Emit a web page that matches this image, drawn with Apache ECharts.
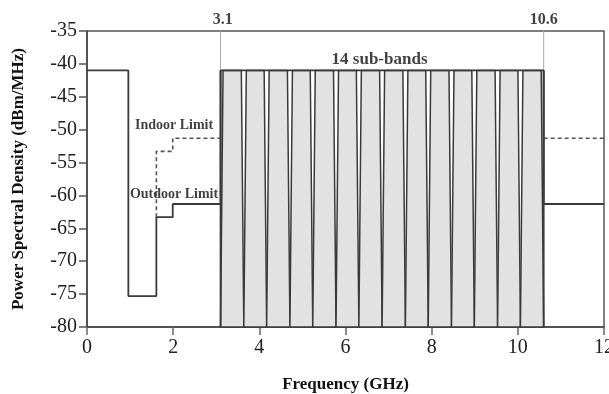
<!DOCTYPE html>
<html>
<head>
<meta charset="utf-8">
<script src="https://cdn.jsdelivr.net/npm/echarts@6/dist/echarts.min.js"></script>
<style>
html,body{margin:0;padding:0;background:#fff;}
#c{width:609px;height:394px;}
</style>
</head>
<body>
<div id="c"></div>
<script>
// ---- data ----
const maskEdges   = [0, 0.96, 1.61, 1.99, 3.1, 10.6, 12];
const maskLevels  = [-41, -75.3, -63.3, -61.3, -41, -61.3, -61.3];
const indoorLow   = [[1.61, -63.3], [1.61, -53.3], [1.99, -53.3], [1.99, -51.3], [3.1, -51.3]];
const indoorHigh  = [[10.6, -51.3], [12, -51.3]];
const subBandEdges = [3.1, 3.64, 4.17, 4.71, 5.24, 5.78, 6.31, 6.85, 7.39, 7.92, 8.46, 8.99, 9.53, 10.06, 10.6];
const subBandTop  = -41;
const bandLimits  = [3.1, 10.6];
const xTicks = [0, 2, 4, 6, 8, 10, 12];
const yTicks = [-80, -75, -70, -65, -60, -55, -50, -45, -40, -35];
const annotations = [
  { x: 3.15, y: -35,   text: '3.1' },
  { x: 10.6, y: -35,   text: '10.6' },
  { x: 6.79, y: -39.3, text: '14 sub-bands' },
  { x: 2.02, y: -49.3, text: 'Indoor Limit' },
  { x: 2.02, y: -59.8, text: 'Outdoor Limit' }
];

// ---- build ----
const maskData = maskEdges.map((x, i) => [x, maskLevels[i]]);
const bandItems = [];
for (let i = 0; i < subBandEdges.length - 1; i++) {
  bandItems.push([subBandEdges[i], subBandEdges[i + 1], subBandTop]);
}
const yMin = yTicks[0], yMax = yTicks[yTicks.length - 1];
const font = 'Liberation Serif';
const lineCol = '#3a3a3a';

const chart = echarts.init(document.getElementById('c'), null, { renderer: 'canvas' });
chart.setOption({
  animation: false,
  grid: { left: 87, right: 5, top: 31, bottom: 67, show: true, borderColor: '#555', borderWidth: 1.5,
          containLabel: false, outerBoundsMode: 'none' },
  xAxis: {
    type: 'value', min: xTicks[0], max: xTicks[xTicks.length - 1], interval: 2,
    name: 'Frequency (GHz)', nameLocation: 'middle', nameGap: 49,
    nameTextStyle: { fontFamily: font, fontWeight: 'bold', fontSize: 17, color: '#111' },
    axisLine: { lineStyle: { color: '#444', width: 1.5 } },
    axisTick: { length: 8, lineStyle: { color: '#666', width: 1.5 } },
    axisLabel: { fontFamily: font, fontSize: 20, color: '#222', margin: 11 },
    splitLine: { show: false }
  },
  yAxis: {
    type: 'value', min: yMin, max: yMax, interval: 5,
    name: 'Power Spectral Density (dBm/MHz)', nameLocation: 'middle', nameGap: 60,
    nameTextStyle: { fontFamily: font, fontWeight: 'bold', fontSize: 17, color: '#111' },
    axisLine: { lineStyle: { color: '#444', width: 1.5 } },
    axisTick: { length: 8, lineStyle: { color: '#555', width: 1.5 } },
    axisLabel: { fontFamily: font, fontSize: 20, color: '#222', margin: 10 },
    splitLine: { show: false }
  },
  series: [
    {
      type: 'custom',
      data: bandItems,
      z: 2,
      renderItem: function (params, api) {
        const x0 = api.value(0), x1 = api.value(1), top = api.value(2);
        const b0 = api.coord([x0, yMin]);
        const b1 = api.coord([x1, yMin]);
        const t0 = api.coord([x0, top]);
        const t1 = api.coord([x1, top]);
        const inset = 2.5;
        return {
          type: 'polygon',
          shape: { points: [b0, [t0[0] + inset, t0[1]], [t1[0] - inset, t1[1]], b1] },
          style: { fill: '#e2e2e2', stroke: '#3a3a3a', lineWidth: 1.5 }
        };
      }
    },
    {
      type: 'line', data: maskData, step: 'end', symbol: 'none', z: 4,
      lineStyle: { color: lineCol, width: 1.8 }
    },
    {
      type: 'line', data: indoorLow, symbol: 'none', z: 3,
      lineStyle: { color: '#555', width: 1.6, type: [4, 3] }
    },
    {
      type: 'line', data: indoorHigh, symbol: 'none', z: 3,
      lineStyle: { color: '#555', width: 1.6, type: [4, 3] }
    },
    ...bandLimits.map(x => ({
      type: 'line', data: [[x, yMin], [x, subBandTop]], symbol: 'none', z: 4,
      lineStyle: { color: lineCol, width: 1.8 }
    })),
    ...bandLimits.map(x => ({
      type: 'line', data: [[x, subBandTop], [x, yMax]], symbol: 'none', z: 3,
      lineStyle: { color: '#aaa', width: 1 }
    })),
    {
      type: 'scatter', symbolSize: 0, z: 5, clip: false,
      data: annotations.map((a, i) => ({
        value: [a.x, a.y], name: a.text,
        label: i < 2 ? { position: 'top', distance: 3, fontSize: 16 } :
               (i === 2 ? { fontSize: 17 } : {})
      })),
      label: {
        show: true, position: 'inside', formatter: p => p.name,
        fontFamily: font, fontWeight: 'bold', fontSize: 14, color: '#111'
      }
    }
  ]
});
</script>
</body>
</html>
